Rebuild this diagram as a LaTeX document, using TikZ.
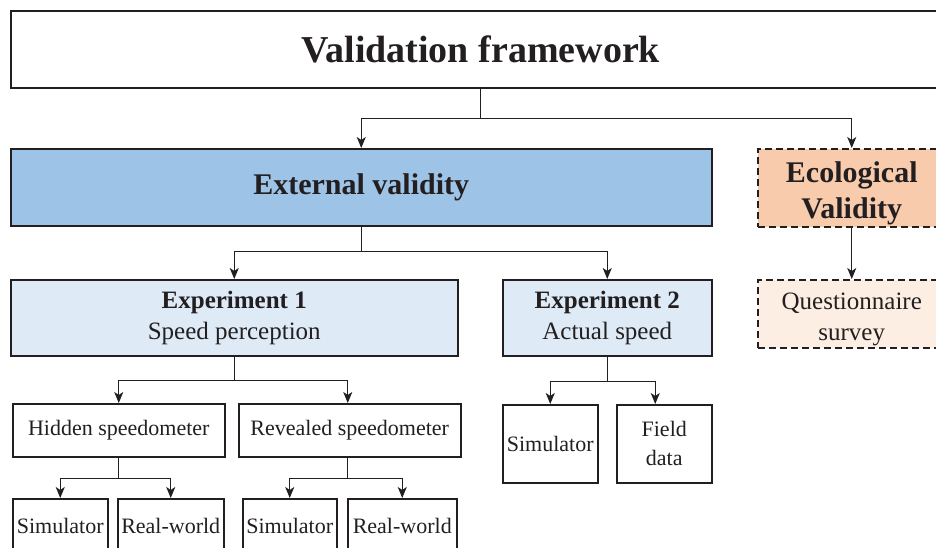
\documentclass[tikz,border=0pt]{standalone}
\usepackage{fontspec}
\setmainfont{Liberation Serif}
\usepackage{tikz}
\usetikzlibrary{arrows.meta}
\definecolor{inkgray}{HTML}{231F20}
\definecolor{extblue}{HTML}{9DC3E6}
\definecolor{expblue}{HTML}{DEEBF7}
\definecolor{ecoorange}{HTML}{F8CBAD}
\definecolor{questpeach}{HTML}{FDEEE4}

\begin{document}
\begin{tikzpicture}[
    x=1pt, y=-1pt,
    box/.style={
        draw=inkgray,
        line width=1.5pt,
        text=inkgray,
        align=center,
        anchor=north west,
        inner sep=0pt
    },
    titlebox/.style={box, font=\fontsize{38}{46}\selectfont\bfseries},
    extbox/.style={box, fill=extblue, font=\fontsize{30}{36}\selectfont\bfseries},
    ecobox/.style={box, dashed, dash pattern=on 7pt off 4pt, fill=ecoorange, font=\fontsize{30}{36}\selectfont\bfseries},
    questbox/.style={box, dashed, dash pattern=on 7pt off 4pt, fill=questpeach, font=\fontsize{25}{31}\selectfont},
    expbox/.style={box, fill=expblue, font=\fontsize{25}{31}\selectfont},
    leafbox/.style={box, fill=white, font=\fontsize{22}{29}\selectfont},
    arrow/.style={draw=inkgray, line width=1.1pt, -{Stealth[length=11pt, width=9pt, inset=3pt]}}
]
\useasboundingbox (0,0) rectangle (936,547);
\clip (0,0) rectangle (936,547);

\node[titlebox, minimum width=940pt, minimum height=77pt] (title) at (10,10) {Validation framework};

\node[extbox, minimum width=701pt, minimum height=77pt] (ext) at (10,148) {External validity};
\node[ecobox, minimum width=188pt, minimum height=78pt] (eco) at (757,148) {\rule{0pt}{32pt}Ecological\\Validity};
\node[questbox, minimum width=188pt, minimum height=68pt] (quest) at (757,279) {\rule{0pt}{27pt}Questionnaire\\survey};

\node[expbox, minimum width=447pt, minimum height=76pt] (exp1) at (10,279) {\textbf{Experiment 1}\\Speed perception};
\node[expbox, minimum width=209pt, minimum height=76pt] (exp2) at (502,279) {\textbf{Experiment 2}\\Actual speed};

\node[leafbox, minimum width=212pt, minimum height=53pt] (hidden) at (12,403) {Hidden speedometer};
\node[leafbox, minimum width=222pt, minimum height=53pt] (revealed) at (238,403) {Revealed speedometer};

\node[leafbox, minimum width=95pt, minimum height=54pt] (simA) at (12,498) {Simulator};
\node[leafbox, minimum width=106pt, minimum height=54pt] (realA) at (117,498) {Real-world};
\node[leafbox, minimum width=94pt, minimum height=54pt] (simB) at (242,498) {Simulator};
\node[leafbox, minimum width=109pt, minimum height=54pt] (realB) at (347,498) {Real-world};

\node[leafbox, minimum width=95pt, minimum height=78pt] (simC) at (502,404) {Simulator};
\node[leafbox, minimum width=95pt, minimum height=78pt] (field) at (616,404) {Field\\data};

% framework -> two kinds of validity
\draw[arrow] (title.south) -- ++(0,30) -| (ext.north);
\draw[arrow] (title.south) -- ++(0,30) -| (eco.north);
\draw[arrow] (eco) -- (quest);

% external validity -> experiments
\draw[arrow] (ext.south) -- ++(0,25) -| (exp1.north);
\draw[arrow] (ext.south) -- ++(0,25) -| (exp2.north);

% experiment 1 branches
\draw[arrow] (exp1.south) -- ++(0,24) -| (hidden.north);
\draw[arrow] (exp1.south) -- ++(0,24) -| ([xshift=-2pt]revealed.north);
\draw[arrow] (hidden.south) -- ++(0,21) -| (simA.north);
\draw[arrow] (hidden.south) -- ++(0,21) -| (realA.north);
\draw[arrow] ([xshift=-2pt]revealed.south) -- ++(0,21) -| (simB.north);
\draw[arrow] ([xshift=-2pt]revealed.south) -- ++(0,21) -| (realB.north);

% experiment 2 branches
\draw[arrow] (exp2.south) -- ++(0,25) -| (simC.north);
\draw[arrow] (exp2.south) -- ++(0,25) -| ([xshift=-9pt]field.north);
\end{tikzpicture}
\end{document}
